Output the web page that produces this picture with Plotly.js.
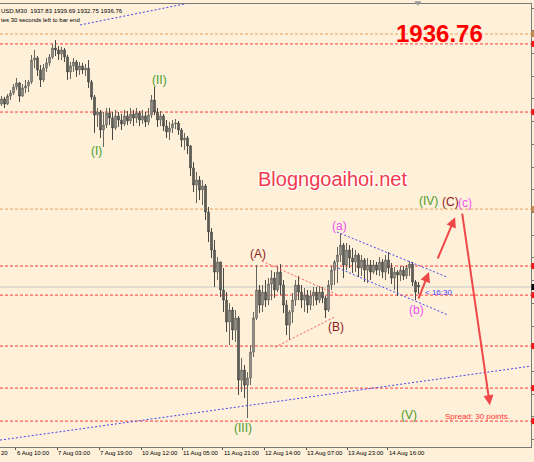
<!DOCTYPE html>
<html><head><meta charset="utf-8">
<script src="https://cdn.plot.ly/plotly-3.0.1.min.js"></script>
<style>html,body{margin:0;padding:0;background:#FEF0D9;} #chart{width:534px;height:462px;}</style>
</head><body><div id="chart"></div>
<script>
// XAUUSD M30 (one bar here ~ one hour of the reference), prices
const open=[2039.9,2042.8,2039.9,2044.4,2046.1,2049.5,2051.8,2044.4,2049.0,2050.1,
2052.3,2064.7,2065.9,2059.1,2053.5,2060.2,2063.1,2066.4,2071.5,2070.4,
2068.1,2070.4,2066.4,2058.0,2061.4,2063.6,2059.1,2061.4,2059.1,2060.2,
2052.3,2043.9,2033.7,2035.4,2025.3,2028.1,2034.9,2032.0,2026.4,2033.2,
2030.9,2028.7,2033.2,2030.4,2034.3,2032.0,2034.9,2030.9,2033.2,2029.8,
2033.7,2042.2,2035.4,2030.9,2033.2,2027.5,2024.2,2026.4,2028.7,2029.2,
2025.3,2019.6,2020.8,2016.3,2003.9,1994.3,1997.1,1991.5,1993.7,1979.0,
1967.8,1957.6,1945.2,1950.9,1935.1,1929.4,1917.0,1923.8,1912.5,1919.3,
1884.3,1890.0,1881.5,1885.5,1900.1,1919.3,1935.1,1926.6,1933.9,1929.4,
1938.5,1941.8,1935.1,1945.2,1937.9,1926.6,1915.3,1922.7,1929.4,1937.9,
1933.9,1929.4,1932.3,1926.6,1931.7,1933.9,1929.4,1933.9,1930.6,1923.8,
1937.9,1946.3,1950.9,1954.8,1960.4,1949.2,1957.6,1953.1,1950.9,1954.8,
1947.5,1952.0,1946.3,1949.2,1945.2,1949.2,1946.3,1950.9,1945.2,1952.0,
1947.5,1941.8,1945.2,1943.5,1946.3,1943.0,1947.5,1949.7,1939.6,1937.83];
const high=[2044.4,2043.9,2045.6,2047.8,2051.2,2054.6,2052.3,2051.2,2053.5,2053.5,
2067.6,2070.4,2067.0,2061.9,2062.5,2065.9,2068.1,2073.8,2076.0,2072.6,
2072.1,2071.5,2067.6,2063.6,2065.9,2064.7,2063.6,2063.1,2062.5,2064.7,
2053.5,2045.0,2037.7,2036.6,2035.4,2037.7,2037.7,2035.4,2036.6,2035.4,
2034.3,2036.6,2036.0,2037.7,2036.6,2037.7,2036.0,2036.6,2035.4,2037.7,
2045.0,2049.5,2037.7,2036.0,2034.3,2030.9,2029.8,2030.9,2031.5,2030.4,
2026.4,2023.6,2021.9,2016.8,2007.2,2001.6,1999.3,1997.1,1994.8,1981.9,
1970.0,1963.3,1953.7,1950.9,1947.5,1933.9,1927.7,1925.5,1923.8,1920.4,
1896.7,1892.8,1888.8,1904.1,1922.7,1949.2,1937.9,1937.9,1940.7,1941.8,
1946.3,1945.2,1948.6,1949.7,1940.7,1929.4,1923.8,1933.4,1940.7,1943.0,
1937.9,1936.2,1935.1,1935.1,1936.8,1936.8,1937.3,1936.8,1931.7,1940.7,
1948.6,1952.0,1959.3,1967.2,1961.6,1961.6,1960.4,1958.8,1957.6,1955.9,
1954.8,1953.1,1953.1,1952.0,1952.0,1950.9,1953.7,1952.6,1954.8,1956.5,
1950.3,1948.0,1946.3,1948.6,1948.6,1949.2,1951.4,1950.9,1940.7,1939.69];
const low=[2038.8,2037.7,2039.4,2042.2,2045.0,2047.8,2041.1,2043.9,2046.1,2046.7,
2051.2,2060.2,2055.7,2049.5,2052.3,2058.0,2061.4,2065.3,2067.0,2064.7,
2064.7,2063.6,2053.5,2054.0,2058.0,2055.2,2056.3,2056.8,2055.7,2049.0,
2042.2,2023.6,2027.0,2020.8,2015.7,2026.4,2028.1,2019.6,2025.3,2027.0,
2025.3,2027.5,2028.1,2028.7,2027.5,2029.2,2027.5,2028.7,2027.0,2028.1,
2032.0,2033.7,2027.0,2027.5,2024.7,2020.8,2019.6,2023.6,2025.8,2022.5,
2015.7,2014.0,2011.7,1999.3,1990.3,1984.1,1985.8,1983.0,1974.5,1962.1,
1953.1,1936.8,1940.7,1931.1,1922.7,1911.4,1904.1,1906.9,1905.8,1875.9,
1877.6,1874.2,1862.9,1881.5,1897.3,1918.2,1922.1,1922.7,1925.5,1926.6,
1929.4,1930.6,1933.9,1932.3,1922.1,1909.7,1906.9,1916.5,1926.1,1929.4,
1924.9,1922.7,1922.1,1923.8,1926.1,1926.6,1927.7,1927.7,1919.3,1922.7,
1935.1,1937.9,1939.0,1950.9,1941.8,1946.3,1947.5,1944.7,1945.2,1942.4,
1943.0,1939.6,1939.0,1940.7,1944.1,1943.5,1943.0,1941.8,1940.7,1944.1,
1938.5,1935.1,1931.7,1940.1,1940.7,1941.3,1943.0,1937.3,1929.4,1932.75];
const close=[2042.8,2039.9,2044.4,2046.1,2049.5,2051.8,2044.4,2049.0,2050.1,2052.3,
2064.7,2065.9,2059.1,2053.5,2060.2,2063.1,2066.4,2071.5,2070.4,2068.1,
2070.4,2066.4,2058.0,2061.4,2063.6,2059.1,2061.4,2059.1,2060.2,2052.3,
2043.9,2033.7,2035.4,2025.3,2028.1,2034.9,2032.0,2026.4,2033.2,2030.9,
2028.7,2033.2,2030.4,2034.3,2032.0,2034.9,2030.9,2033.2,2029.8,2033.7,
2042.2,2035.4,2030.9,2033.2,2027.5,2024.2,2026.4,2028.7,2029.2,2025.3,
2019.6,2020.8,2016.3,2003.9,1994.3,1997.1,1991.5,1993.7,1979.0,1967.8,
1957.6,1945.2,1950.9,1935.1,1929.4,1917.0,1923.8,1912.5,1919.3,1884.3,
1890.0,1881.5,1885.5,1900.1,1919.3,1935.1,1926.6,1933.9,1929.4,1938.5,
1941.8,1935.1,1945.2,1937.9,1926.6,1915.3,1922.7,1929.4,1937.9,1933.9,
1929.4,1932.3,1926.6,1931.7,1933.9,1929.4,1933.9,1930.6,1923.8,1937.9,
1946.3,1950.9,1954.8,1960.4,1949.2,1957.6,1953.1,1950.9,1954.8,1947.5,
1952.0,1946.3,1949.2,1945.2,1949.2,1946.3,1950.9,1945.2,1952.0,1947.5,
1941.8,1945.2,1943.5,1946.3,1943.0,1947.5,1949.7,1939.6,1933.9,1936.76];

const tickPositions=[4.83,18.5,32.5,46.5,60.17,73.83,87.5,101.5,115.17,128.83];
const tickLabels=['6 Aug 10:00','7 Aug 03:00','7 Aug 19:00','10 Aug 12:00','11 Aug 05:00',
'11 Aug 21:00','12 Aug 14:00','13 Aug 07:00','13 Aug 23:00','14 Aug 16:00'];

const levelPrices=[2079.4,2073.8,2035.4,1980.7,1948.6,1932.2,1903.5,1879.8,1861.2];
const levelKinds=['orange','red','red','orange','red','red','red','red','red'];
const currentPrice=1936.76;

const trendX0=[26.2,-0.5,86.8,91.2,111.8,112.2];
const trendY0=[2084.5,1850.5,1951.4,1902.9,1967.8,1947.5];
const trendX1=[62.8,176.5,112.8,111.2,148.5,148.8];
const trendY1=[2096.9,1892.2,1931.7,1920.0,1942.4,1921.0];
const trendKinds=['blue','blue','red','red','blue','blue'];

const arrowX0=[138.8,145.2,153.5], arrowY0=[1929.4,1952.0,1979.0];
const arrowX1=[142.5,151.2,162.8], arrowY1=[1945.2,1976.1,1870.2];

const waveLabels=['(I)','(II)','(III)','(IV)','(V)','(A)','(B)','(C)','(a)','(b)','(c)'];
const waveX=[31.8,52.5,80.5,142.2,135.8,85.5,111.5,149.5,112.5,138.2,154.5];
const waveY=[2013.4,2053.5,1857.3,1985.2,1864.6,1955.4,1914.2,1984.7,1971.2,1923.8,1984.1];
const waveKinds=['major','major','major','major','major','inter','inter','inter','minor','minor','minor'];

const barIndex=open.map((_,i)=>i);
const FONT='Liberation Sans, Arial, sans-serif';
const colorOf={orange:'#E9A25E',red:'#FF3B3B',blue:'#4646F0'};
const waveColor={major:'#4C9C2C',inter:'#8E1C1C',minor:'#EE55EE'};

const shapes=[];
levelPrices.forEach((p,k)=>{
  shapes.push({type:'line',xref:'paper',yref:'y',x0:0,x1:1,y0:p,y1:p,
    line:{color:colorOf[levelKinds[k]],width:1,dash:'3px,2px'},layer:'below'});
  shapes.push({type:'rect',xref:'paper',yref:'y',x0:1.001,x1:1.008,y0:p-1.7,y1:p+1.7,
    line:{width:0},fillcolor:levelKinds[k]==='orange'?'#C88A4A':'#FF1010'});
});
shapes.push({type:'line',xref:'paper',yref:'y',x0:0,x1:1,y0:currentPrice,y1:currentPrice,
  line:{color:'#C8C8C8',width:1},layer:'below'});
shapes.push({type:'rect',xref:'paper',yref:'y',x0:1.001,x1:1.008,y0:currentPrice-1.7,y1:currentPrice+1.7,
  line:{width:0},fillcolor:'#000000'});
trendKinds.forEach((k,j)=>{
  shapes.push({type:'line',xref:'x',yref:'y',x0:trendX0[j],y0:trendY0[j],x1:trendX1[j],y1:trendY1[j],
    line:{color:k==='blue'?'#4646F0':'#FF5C5C',width:1,dash:'2px,2px'}});
});
shapes.push({type:'path',xref:'x',yref:'paper',path:'M 137.6 1.006 L 140.0 1.006 L 138.8 0.996 Z',
  fillcolor:'#9A9A9A',line:{width:0}});

const annotations=[];
arrowX0.forEach((x0,j)=>{
  annotations.push({x:arrowX1[j],y:arrowY1[j],ax:x0,ay:arrowY0[j],xref:'x',yref:'y',axref:'x',ayref:'y',
    text:'',showarrow:true,arrowhead:2,arrowsize:1,arrowwidth:2,arrowcolor:'#F04848'});
});
waveLabels.forEach((t,j)=>{
  annotations.push({x:waveX[j],y:waveY[j],xref:'x',yref:'y',text:t,showarrow:false,
    font:{family:FONT,size:12,color:waveColor[waveKinds[j]]}});
});
annotations.push({x:110.2,y:1997.7,xref:'x',yref:'y',text:'Blogngoaihoi.net',showarrow:false,
  font:{family:FONT,size:20,color:'#F23A4C',shadow:'1px 1px 1px #fff, -1px -1px 1px #fff, 1px -1px 1px #fff, -1px 1px 1px #fff'}});
annotations.push({x:140.5,y:1933.9,xref:'x',yref:'y',text:'< 16:30',showarrow:false,xanchor:'left',
  font:{family:FONT,size:8,color:'#3C3CFF'}});
annotations.push({x:0.834,y:0.054,xref:'paper',yref:'paper',text:'Spread: 30 points.',showarrow:false,xanchor:'left',
  font:{family:FONT,size:8,color:'#FF3333'}});
annotations.push({x:0.9134,y:0.9684,xref:'paper',yref:'paper',text:'<b>1936.76</b>',showarrow:false,
  font:{family:FONT,size:24,color:'#FF0000'}});
annotations.push({x:0,y:0.9955,xref:'paper',yref:'paper',text:'USD.M30  1937.83 1939.69 1932.75 1936.76',
  showarrow:false,xanchor:'left',xshift:-1,font:{family:FONT,size:6,color:'#000'}});
annotations.push({x:0,y:0.9752,xref:'paper',yref:'paper',text:'tes 30 seconds left to bar end',
  showarrow:false,xanchor:'left',xshift:-1,font:{family:FONT,size:6,color:'#000'}});
annotations.push({x:0,y:-0.0135,xref:'paper',yref:'paper',yanchor:'middle',text:'20',showarrow:false,xanchor:'left',xshift:-1,
  font:{family:FONT,size:6,color:'#000'}});

const trace={type:'candlestick',x:barIndex,open:open,high:high,low:low,close:close,
  increasing:{line:{color:'#66655F',width:1},fillcolor:'#B2AEA5'},
  decreasing:{line:{color:'#474743',width:1},fillcolor:'#75726C'},
  whiskerwidth:0,hoverinfo:'none',showlegend:false};

const layout={width:534,height:462,margin:{l:0,r:3,t:4,b:15},
  paper_bgcolor:'#FEF0D9',plot_bgcolor:'#FEF0D9',showlegend:false,
  xaxis:{range:[-0.5,176.5],showgrid:false,zeroline:false,rangeslider:{visible:false},
    showline:true,mirror:true,linecolor:'#7A7A7A',linewidth:1,
    tickmode:'array',tickvals:tickPositions,ticktext:tickLabels,ticks:'outside',ticklen:2,tickcolor:'#555',
    tickangle:0,automargin:false,
    ticklabelposition:'outside right',tickfont:{family:FONT,size:6,color:'#000'}},
  yaxis:{range:[1846.6,2096.3],side:'right',showgrid:false,zeroline:false,showline:true,linecolor:'#7A7A7A',
    ticks:'outside',ticklen:3,tickcolor:'#777',showticklabels:false,tick0:1863.6,dtick:12.8},
  shapes:shapes,annotations:annotations};

Plotly.newPlot('chart',[trace],layout,{staticPlot:true,displayModeBar:false});
</script></body></html>
